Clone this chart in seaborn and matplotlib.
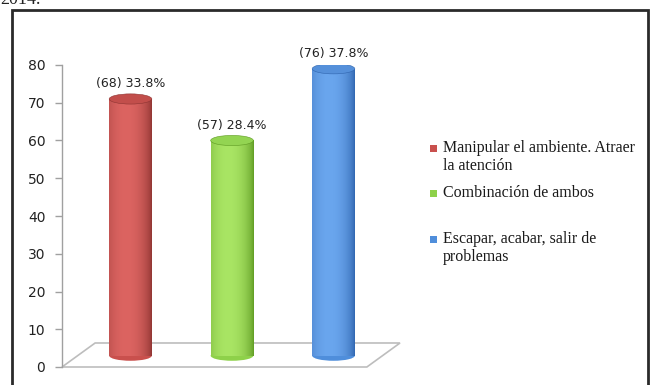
import numpy as np
import pandas as pd
import matplotlib
matplotlib.use("Agg")
import matplotlib.pyplot as plt
import seaborn as sns
from matplotlib.patches import Ellipse, Rectangle, Polygon
from matplotlib.colors import to_rgb

categories = ["Manipular el ambiente. Atraer\nla atención",
              "Combinación de ambos",
              "Escapar, acabar, salir de\nproblemas"]
values = [68, 57, 76]
percents = ["33.8%", "28.4%", "37.8%"]
yticks = [0, 10, 20, 30, 40, 50, 60, 70, 80]

base_colors = ["#C9504D", "#8ED14A", "#4F8EDB"]
dark_colors = ["#8E3432", "#5E9A22", "#2F64AE"]
light_colors = ["#DC6461", "#A9E564", "#6AA6EE"]
cap_colors = ["#C24E4B", "#93D452", "#5590DA"]

sns.set_theme(style="white")
plt.rcParams['font.family'] = ['DejaVu Sans']

fig = plt.figure(figsize=(6.5, 3.85), dpi=100)
W, H = 650, 385
ax = fig.add_axes([62 / W, 1 - 367 / H, 338 / W, (367 - 65) / H])

df = pd.DataFrame({"cat": categories, "val": values})
sns.barplot(data=df, x="cat", y="val", hue="cat", palette=base_colors,
            width=0.42, legend=False, ax=ax, saturation=1)

unit = 101.5
xlo = -(130.5 - 62) / unit
depth = 3.0  # apparent lift of the 3D depth plane (value units)

# cylinder shading
prof = np.linspace(0, 1, 200)
shape = np.clip(1 - ((prof - 0.4) / 0.6) ** 2, 0, 1) ** 0.7
for i, bar in enumerate(ax.patches):
    x0, w, h = bar.get_x(), bar.get_width(), bar.get_height()
    d = np.array(to_rgb(dark_colors[i]))
    l = np.array(to_rgb(light_colors[i]))
    img = d[None, :] * (1 - shape[:, None]) + l[None, :] * shape[:, None]
    img = img[None, :, :]
    bar.set_visible(False)
    ax.imshow(img, extent=(x0, x0 + w, depth, h + depth), aspect="auto",
              zorder=3, interpolation="bilinear")
    eb = Ellipse((x0 + w / 2, depth), w, 2.7, facecolor=base_colors[i],
                 edgecolor="none", zorder=2.9)
    ax.add_patch(eb)
    et = Ellipse((x0 + w / 2, h + depth), w, 2.7, facecolor=cap_colors[i],
                 edgecolor=dark_colors[i], linewidth=0.4, zorder=4)
    ax.add_patch(et)
    ax.text(x0 + w / 2, h + 7, f"({values[i]}) {percents[i]}",
            ha="center", va="center", fontsize=9, color="#222222", zorder=5)

ax.set_xlim(xlo, xlo + 338 / unit)
ax.set_ylim(0, 80)

# 3D floor
floor = Polygon([(0, 0), (0.902, 0), (1.0, 0.0795), (0.098, 0.0795)],
                closed=True, fill=False, edgecolor="#BDBDBD", linewidth=1.2,
                transform=ax.transAxes, zorder=1, clip_on=False)
ax.add_patch(floor)

ax.set_yticks(yticks)
ax.set_yticklabels([str(t) for t in yticks], fontsize=10, color="#222222")
ax.set_xticks([])
ax.set_xlabel("")
ax.set_ylabel("")
for s in ["top", "right", "bottom"]:
    ax.spines[s].set_visible(False)
ax.spines["left"].set_color("#A0A0A0")
ax.spines["left"].set_linewidth(1.0)
ax.tick_params(axis="y", left=True, length=5, width=1, color="#A0A0A0",
               direction="out", pad=7)
ax.patch.set_alpha(0)

# legend (entries placed like the reference, uneven slots)
leg_centers = [157, 193, 248]
marker_y = [148, 193, 239]
for i, lab in enumerate(categories):
    fig.text(443 / W, 1 - leg_centers[i] / H, lab, ha="left", va="center",
             family="Liberation Serif", fontsize=11.5, color="#1a1a1a",
             linespacing=1.15)
    fig.patches.append(Rectangle((430 / W, 1 - (marker_y[i] + 3.5) / H),
                                 7 / W, 7 / H, facecolor=base_colors[i],
                                 edgecolor="none", transform=fig.transFigure))

# outer frame
fig.patches.append(Rectangle((12 / W, -0.2), (636 / W), 1 - 10 / H + 0.2,
                             fill=False, edgecolor="#2a2a2a", linewidth=2,
                             transform=fig.transFigure))
fig.text(0 / W, 1.0, "2014.", fontsize=13, family="Liberation Serif",
         ha="left", va="center", color="#222222")

fig.savefig("out.png", dpi=100)
